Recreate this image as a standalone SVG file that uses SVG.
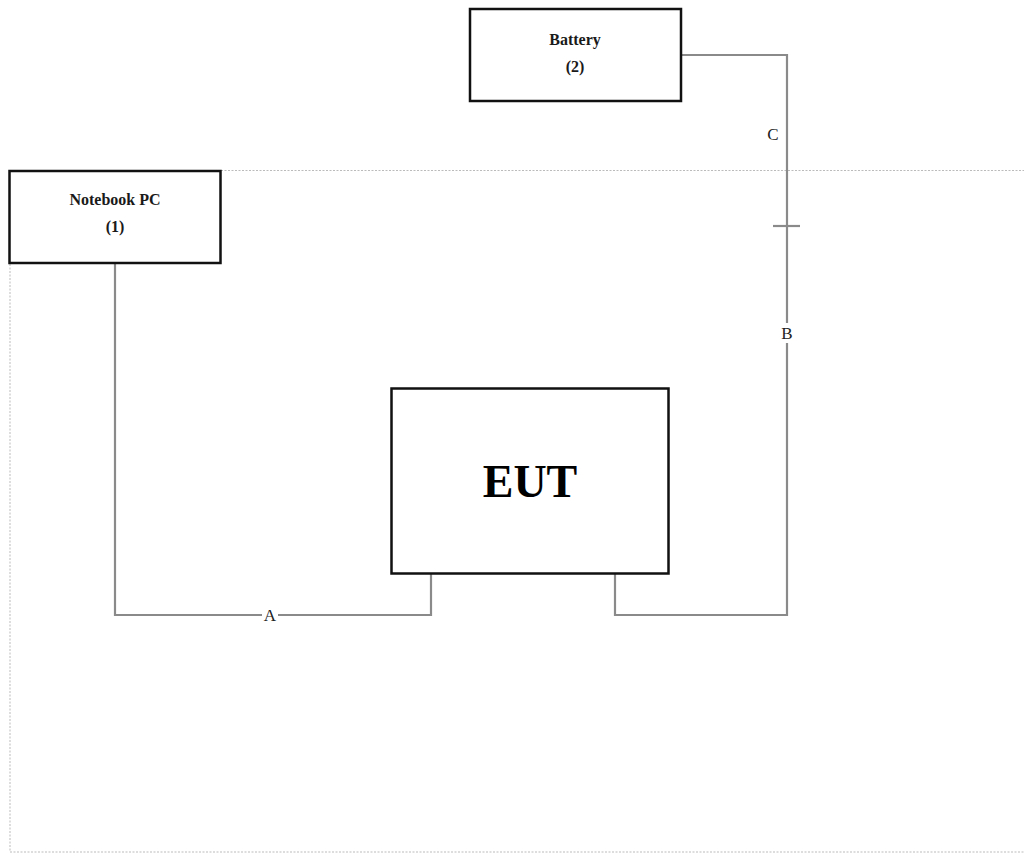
<svg xmlns="http://www.w3.org/2000/svg" width="1024" height="859" viewBox="0 0 1024 859">
<style>
.box{fill:#fff;stroke:#111;stroke-width:2.5}
.wire{fill:none;stroke:#8a8a8a;stroke-width:2.2}
.dot{fill:none;stroke:#bbb;stroke-width:1;stroke-dasharray:2,1.5}
.lbl{font-family:"Liberation Serif",serif;font-weight:bold;font-size:16px;fill:#1a1a1a;text-anchor:middle}
.cl{font-family:"Liberation Serif",serif;font-size:17px;fill:#222;text-anchor:middle}
</style>
<rect width="1024" height="859" fill="#fff"/>
<g id="frame">
<path class="dot" d="M221 170.5H1024"/>
<path class="dot" d="M10 264V852H1024"/>
</g>
<g id="connectors">
<path class="wire" d="M115 264V615H431V574"/>
<path class="wire" d="M615 574V615H787V55H681"/>
<path class="wire" d="M773 226H800"/>
<rect x="262" y="606" width="16" height="18" fill="#fff"/>
<text class="cl" x="270" y="621">A</text>
<rect x="779" y="323" width="16" height="20" fill="#fff"/>
<text class="cl" x="787" y="339">B</text>
<text class="cl" x="773" y="140">C</text>
</g>
<g id="battery">
<rect class="box" x="470" y="9" width="211" height="92"/>
<text class="lbl" x="575" y="45">Battery</text>
<text class="lbl" x="575" y="72">(2)</text>
</g>
<g id="notebook">
<rect class="box" x="9.5" y="171" width="211" height="92"/>
<text class="lbl" x="115" y="205">Notebook PC</text>
<text class="lbl" x="115" y="232">(1)</text>
</g>
<g id="eut">
<rect class="box" x="391.5" y="388.5" width="277" height="185"/>
<text class="lbl" x="530" y="497" style="font-size:46px;fill:#000">EUT</text>
</g>
</svg>
